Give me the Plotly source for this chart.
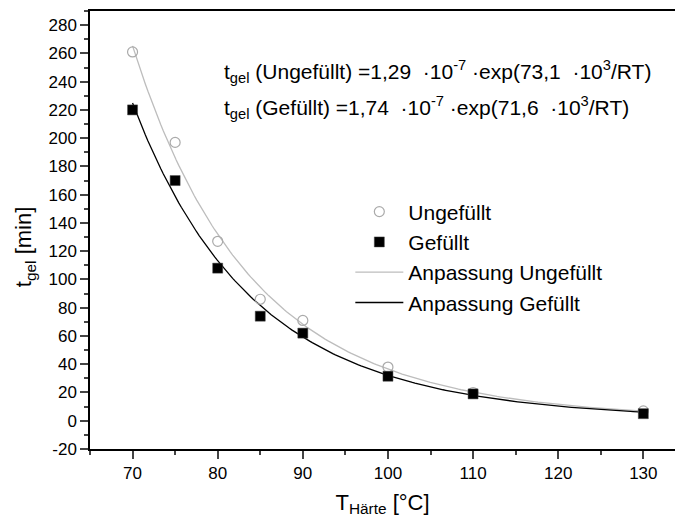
import numpy as np
import plotly.graph_objects as go

# Data
temps = [70, 75, 80, 85, 90, 100, 110, 130]
t_ungefuellt = [261, 197, 127, 86, 71, 38, 20, 7]
t_gefuellt = [220, 170, 108, 74, 62, 31.5, 19, 5]

x_ticks = [70, 80, 90, 100, 110, 120, 130]
y_ticks = list(range(-20, 281, 20))
y_ticktext = [str(v) for v in y_ticks]


def arrhenius_fit(T, t):
    """Weighted fit of ln t = a + b/T_K (approximates least squares on t)."""
    T = np.asarray(T, float)
    t = np.asarray(t, float)
    invT = 1.0 / (T + 273.15)
    b, a = np.polyfit(invT, np.log(t), 1, w=t)
    Tg = np.linspace(T.min(), T.max(), 200)
    return Tg, np.exp(a + b / (Tg + 273.15))


xu, yu = arrhenius_fit(temps, t_ungefuellt)
xg, yg = arrhenius_fit(temps, t_gefuellt)

GRAY = "#bdbdbd"
MARK_GRAY = "#aaaaaa"
FONT = "Liberation Sans, Arial, sans-serif"

fig = go.Figure()
fig.add_trace(go.Scatter(x=xu, y=yu, mode="lines", name="Anpassung Ungefüllt",
                         line=dict(color=GRAY, width=1.3), legendrank=3))
fig.add_trace(go.Scatter(x=xg, y=yg, mode="lines", name="Anpassung Gefüllt",
                         line=dict(color="black", width=1.3), legendrank=4))
fig.add_trace(go.Scatter(x=temps, y=t_ungefuellt, mode="markers", name="Ungefüllt",
                         marker=dict(symbol="circle-open", size=10, color=MARK_GRAY,
                                     line=dict(width=1.2, color=MARK_GRAY)),
                         legendrank=1))
fig.add_trace(go.Scatter(x=temps, y=t_gefuellt, mode="markers", name="Gefüllt",
                         marker=dict(symbol="square", size=10, color="black",
                                     line=dict(width=0.5, color="#444")),
                         legendrank=2))

fig.add_annotation(xref="paper", yref="paper", x=0.2256, y=0.862,
                   xanchor="left", yanchor="middle", showarrow=False,
                   text="t<sub>gel</sub> (Ungefüllt) =1,29  ·10<sup>-7</sup> ·exp(73,1  ·10<sup>3</sup>/RT)",
                   font=dict(size=21, color="black", family=FONT))
fig.add_annotation(xref="paper", yref="paper", x=0.2256, y=0.779,
                   xanchor="left", yanchor="middle", showarrow=False,
                   text="t<sub>gel</sub> (Gefüllt) =1,74  ·10<sup>-7</sup> ·exp(71,6  ·10<sup>3</sup>/RT)",
                   font=dict(size=21, color="black", family=FONT))

# y-axis title placed as annotation to match its off-centre position
fig.add_annotation(xref="paper", yref="paper", x=-0.111, y=0.461,
                   xanchor="center", yanchor="middle", showarrow=False, textangle=-90,
                   text="t<sub>gel</sub> [min]",
                   font=dict(size=22, color="black", family=FONT))

fig.update_layout(
    width=675, height=523,
    margin=dict(l=90, r=0, t=11, b=74),
    paper_bgcolor="white", plot_bgcolor="white",
    font=dict(family=FONT, color="black", size=17),
    showlegend=True,
    legend=dict(x=0.445, y=0.588, xanchor="left", yanchor="top",
                bgcolor="rgba(0,0,0,0)", font=dict(size=21),
                itemwidth=48, tracegroupgap=0),
    xaxis=dict(range=[65, 133.72], tickvals=x_ticks, ticks="outside", ticklen=8,
               tickwidth=1.5, showline=True, linecolor="black", linewidth=1.5,
               mirror=True, showgrid=False, zeroline=False,
               minor=dict(dtick=5, tick0=65, ticks="outside", ticklen=4,
                          tickwidth=1.5, showgrid=False),
               tickfont=dict(size=17),
               title=dict(text="T<sub>Härte</sub> [°C]", font=dict(size=22), standoff=12)),
    yaxis=dict(range=[-20, 290], tickvals=y_ticks, ticktext=y_ticktext,
               ticks="outside", ticklen=8,
               tickwidth=1.5, showline=True, linecolor="black", linewidth=1.5,
               mirror=False, showgrid=False, zeroline=False,
               minor=dict(dtick=10, tick0=-20, ticks="outside", ticklen=4,
                          tickwidth=1.5, showgrid=False),
               tickfont=dict(size=17)),
)

fig.write_html("out.html")
